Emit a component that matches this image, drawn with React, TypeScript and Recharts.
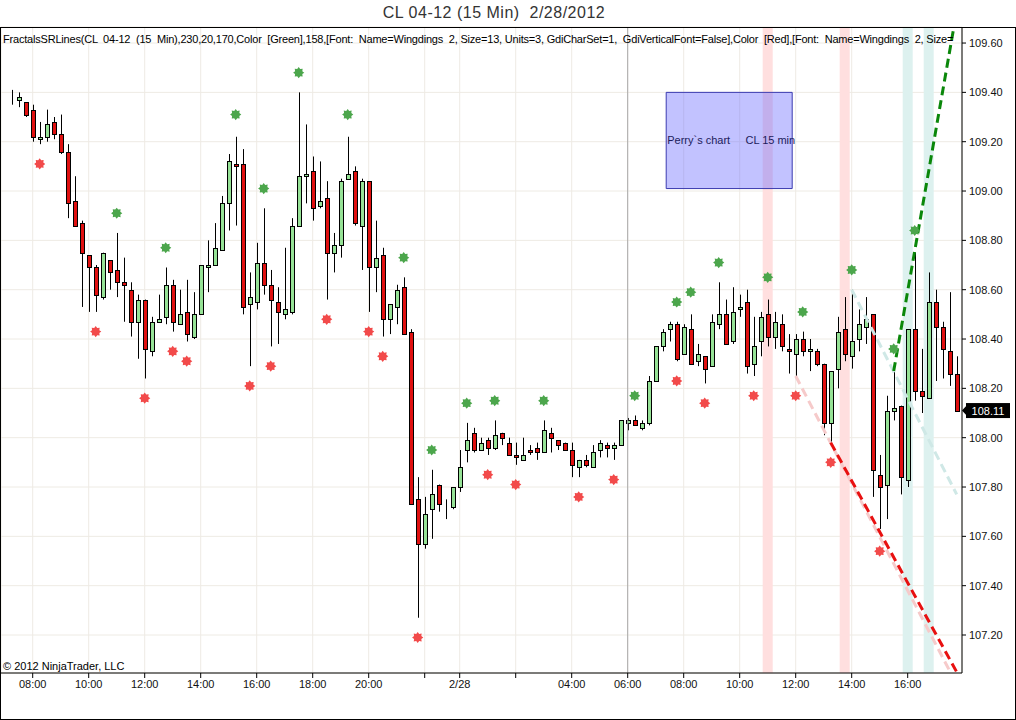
import {
  ComposedChart,
  Bar,
  Line,
  XAxis,
  YAxis,
  CartesianGrid,
  ReferenceArea,
  ReferenceLine,
} from "recharts";

// 15 min bars of CL 04-12 (bar 1 = 07:15)
const opens = [
  109.37, 109.37, 109.36, 109.33, 109.21, 109.22, 109.28, 109.23, 109.16, 108.96,
  108.87, 108.74, 108.69, 108.57, 108.72, 108.68, 108.63, 108.60, 108.47, 108.56,
  108.35, 108.47, 108.49, 108.62, 108.46, 108.51, 108.41, 108.50, 108.69, 108.70,
  108.76, 108.95, 109.11, 109.11, 108.54, 108.55, 108.71, 108.62, 108.55, 108.50,
  108.51, 108.86, 109.06, 109.08, 108.94, 108.97, 108.75, 108.78, 109.05, 109.08,
  108.86, 109.04, 108.69, 108.74, 108.48, 108.53, 108.61, 108.43, 107.75, 107.57,
  107.71, 107.81, 107.73, 107.72, 107.80, 107.95, 108.02, 107.95, 107.99, 107.96,
  108.02, 107.98, 107.93, 107.91, 107.95, 107.96, 107.94, 108.02, 107.99, 107.98,
  107.95, 107.88, 107.91, 107.88, 107.95, 107.97, 107.96, 107.97, 108.06, 108.07,
  108.04, 108.06, 108.23, 108.37, 108.44, 108.46, 108.34, 108.44, 108.31, 108.33,
  108.29, 108.46, 108.50, 108.39, 108.52, 108.55, 108.30, 108.39, 108.50, 108.41,
  108.46, 108.36, 108.34, 108.40, 108.35, 108.35, 108.30, 108.06, 108.28, 108.44,
  108.33, 108.40, 108.45, 108.50, 107.85, 107.81, 108.11, 108.13, 107.83, 108.44,
  108.19, 108.16, 108.55, 108.45, 108.35, 108.26,
];
const highs = [
  109.41, 109.40, 109.36, 109.35, 109.28, 109.33, 109.30, 109.31, 109.19, 109.06,
  108.88, 108.74, 108.70, 108.75, 108.72, 108.83, 108.73, 108.63, 108.58, 108.56,
  108.49, 108.58, 108.69, 108.64, 108.60, 108.64, 108.59, 108.70, 108.80, 108.87,
  108.98, 109.15, 109.22, 109.17, 108.67, 108.79, 108.93, 108.68, 108.61, 108.77,
  108.89, 109.40, 109.27, 109.14, 109.12, 109.04, 108.83, 109.05, 109.22, 109.10,
  109.05, 109.04, 108.88, 108.77, 108.54, 108.62, 108.65, 108.44, 107.84, 107.76,
  107.87, 107.81, 107.75, 107.80, 107.95, 108.06, 108.04, 108.00, 108.00, 108.07,
  108.02, 108.00, 107.98, 108.00, 107.97, 107.98, 108.07, 108.04, 107.99, 107.98,
  107.98, 107.91, 107.93, 107.97, 107.99, 107.98, 107.98, 108.07, 108.08, 108.09,
  108.07, 108.25, 108.37, 108.44, 108.47, 108.47, 108.46, 108.50, 108.38, 108.33,
  108.50, 108.63, 108.56, 108.61, 108.58, 108.60, 108.49, 108.51, 108.56, 108.51,
  108.50, 108.42, 108.42, 108.43, 108.40, 108.36, 108.30, 108.27, 108.49, 108.57,
  108.60, 108.52, 108.57, 108.50, 107.93, 108.17, 108.27, 108.13, 108.44, 108.75,
  108.36, 108.67, 108.60, 108.47, 108.59, 108.33,
];
const lows = [
  109.35, 109.34, 109.30, 109.20, 109.19, 109.20, 109.21, 109.15, 108.89, 108.86,
  108.53, 108.51, 108.51, 108.56, 108.60, 108.57, 108.47, 108.41, 108.32, 108.24,
  108.33, 108.47, 108.46, 108.43, 108.46, 108.39, 108.40, 108.50, 108.59, 108.70,
  108.76, 108.84, 108.86, 108.50, 108.29, 108.52, 108.58, 108.37, 108.38, 108.48,
  108.50, 108.86, 108.95, 108.88, 108.93, 108.56, 108.67, 108.73, 109.05, 108.86,
  108.68, 108.51, 108.59, 108.41, 108.42, 108.46, 108.42, 107.73, 107.27, 107.55,
  107.59, 107.70, 107.67, 107.71, 107.78, 107.90, 107.94, 107.95, 107.93, 107.95,
  107.97, 107.93, 107.89, 107.91, 107.93, 107.91, 107.94, 107.94, 107.95, 107.95,
  107.84, 107.84, 107.88, 107.88, 107.92, 107.92, 107.91, 107.97, 108.03, 108.05,
  108.03, 108.05, 108.23, 108.35, 108.39, 108.31, 108.34, 108.30, 108.29, 108.22,
  108.29, 108.44, 108.38, 108.38, 108.49, 108.26, 108.25, 108.33, 108.37, 108.36,
  108.35, 108.26, 108.25, 108.33, 108.27, 108.29, 108.01, 107.98, 108.20, 108.31,
  108.28, 108.35, 108.38, 107.76, 107.63, 107.67, 108.07, 107.77, 107.80, 108.15,
  108.10, 108.16, 108.23, 108.24, 108.21, 108.11,
];
const closes = [
  109.37, 109.38, 109.31, 109.22, 109.22, 109.27, 109.23, 109.16, 108.95, 108.86,
  108.75, 108.69, 108.58, 108.75, 108.67, 108.63, 108.62, 108.47, 108.56, 108.36,
  108.47, 108.48, 108.62, 108.47, 108.50, 108.42, 108.50, 108.70, 108.70, 108.77,
  108.95, 109.12, 109.10, 108.53, 108.57, 108.71, 108.62, 108.56, 108.51, 108.52,
  108.86, 109.06, 109.07, 108.93, 108.96, 108.75, 108.78, 109.04, 109.07, 108.87,
  109.04, 108.69, 108.73, 108.48, 108.54, 108.60, 108.42, 107.73, 107.57, 107.69,
  107.77, 107.73, 107.73, 107.80, 107.88, 107.99, 107.95, 107.98, 107.96, 108.01,
  108.00, 107.93, 107.92, 107.93, 107.94, 107.94, 108.03, 108.00, 107.97, 107.95,
  107.89, 107.91, 107.89, 107.94, 107.98, 107.96, 107.97, 108.07, 108.07, 108.05,
  108.06, 108.23, 108.37, 108.43, 108.46, 108.32, 108.45, 108.30, 108.34, 108.28,
  108.47, 108.50, 108.38, 108.51, 108.53, 108.29, 108.37, 108.49, 108.41, 108.47,
  108.37, 108.35, 108.40, 108.35, 108.36, 108.30, 108.06, 108.27, 108.43, 108.34,
  108.39, 108.46, 108.48, 107.87, 107.80, 108.11, 108.12, 107.84, 108.44, 108.19,
  108.17, 108.55, 108.45, 108.36, 108.26, 108.11,
];

// fractal markers (bar number, price of the star)
const fractalUpBars = [16, 23, 33, 37, 42, 49, 57, 61, 66, 70, 77, 90, 96, 98, 102, 109, 114, 121, 127, 130];
const fractalUpPrices = [
  108.91, 108.77, 109.31, 109.01, 109.48, 109.31, 108.73, 107.95, 108.14, 108.15,
  108.15, 108.17, 108.55, 108.59, 108.71, 108.65, 108.51, 108.68, 108.36, 108.84,
];
const fractalDownBars = [5, 13, 20, 24, 26, 35, 38, 46, 52, 54, 59, 69, 73, 82, 87, 96, 100, 107, 113, 118, 125];
const fractalDownPrices = [
  109.11, 108.43, 108.16, 108.35, 108.31, 108.21, 108.29, 108.48, 108.43, 108.33,
  107.19, 107.85, 107.81, 107.76, 107.83, 108.23, 108.14, 108.17, 108.17, 107.90, 107.54,
];

// support / resistance lines: [bar, price] end points
const supportOld = [[113, 108.25], [136, 107.0]];
const supportNew = [[118, 107.98], [136, 107.05]];
const resistanceOld = [[121, 108.6], [136, 107.77]];
const resistanceNew = [[127, 108.27], [136, 109.73]];

const redBands = [109, 120];
const cyanBands = [129, 132];
const sessionBreak = 89;

const timeTicks = [4, 12, 20, 28, 36, 44, 52, 60, 65, 73, 81, 89, 97, 105, 113, 121, 129];
const timeLabels = [
  "08:00", "10:00", "12:00", "14:00", "16:00", "18:00", "20:00", "", "2/28", "",
  "04:00", "06:00", "08:00", "10:00", "12:00", "14:00", "16:00",
];
const priceTicks = [107.2, 107.4, 107.6, 107.8, 108.0, 108.2, 108.4, 108.6, 108.8, 109.0, 109.2, 109.4, 109.6];

const noteBars = [95, 112];
const notePrices = [109.01, 109.4];
const noteText = "Perry`s chart     CL 15 min";

const indicatorText =
  "FractalsSRLines(CL  04-12  (15  Min),230,20,170,Color  [Green],158,[Font:  Name=Wingdings  2, Size=13, Units=3, GdiCharSet=1,  GdiVerticalFont=False],Color  [Red],[Font:  Name=Wingdings  2, Size=";

const data = opens.map((o, k) => {
  const bar = k + 1;
  const up = fractalUpBars.indexOf(bar);
  const down = fractalDownBars.indexOf(bar);
  return {
    bar,
    o,
    h: highs[k],
    l: lows[k],
    c: closes[k],
    range: [lows[k], highs[k]],
    fu: up >= 0 ? fractalUpPrices[up] : null,
    fd: down >= 0 ? fractalDownPrices[down] : null,
  };
});

const lastPrice = closes[closes.length - 1];

const FONT = '"Liberation Sans", Arial, sans-serif';
const UP_FILL = "#96E296";
const DOWN_FILL = "#E01010";

function Candle(props: any) {
  const { x, y, width, height, payload } = props;
  const { o, h, l, c } = payload;
  const px = (v: number) => y + ((h - v) / (h - l)) * height;
  const cx = Math.round(x + width / 2);
  const top = Math.round(px(Math.max(o, c))) + 0.5;
  const bot = Math.round(px(Math.min(o, c))) + 0.5;
  return (
    <g>
      <line x1={cx + 0.5} x2={cx + 0.5} y1={y} y2={y + height} stroke="#000" strokeWidth={1} />
      <rect
        x={cx - 1.5}
        y={top}
        width={4}
        height={Math.max(bot - top, 0)}
        fill={c >= o ? UP_FILL : DOWN_FILL}
        stroke="#000"
        strokeWidth={1}
      />
    </g>
  );
}

function burst(cx: number, cy: number, color: string) {
  const pts: string[] = [];
  for (let k = 0; k < 16; k++) {
    const r = k % 2 === 0 ? 5.6 : 3.9;
    const a = (Math.PI * k) / 8;
    pts.push(`${cx + r * Math.cos(a)},${cy + r * Math.sin(a)}`);
  }
  return <polygon points={pts.join(" ")} fill={color} />;
}

const fractalDot = (field: "fu" | "fd", color: string) => (props: any) => {
  const { cx, cy, payload, index } = props;
  if (payload[field] == null || cy == null) return <g key={`${field}${index}`} />;
  return <g key={`${field}${index}`}>{burst(cx, cy, color)}</g>;
};

function Band(color: string) {
  return (p: any) => (
    <rect x={p.x - 1.5} y={p.y} width={p.width + 3} height={p.height} fill={color} />
  );
}

function NoteLabel(props: any) {
  const { x, y, width, height } = props.viewBox;
  return (
    <text
      x={x + width / 2 + 2}
      y={y + height / 2}
      textAnchor="middle"
      dominantBaseline="central"
      fontSize={11}
      fill="#1c1c5c"
      style={{ whiteSpace: "pre" }}
    >
      {noteText}
    </text>
  );
}

function PriceTag(props: any) {
  const { x, y, width } = props.viewBox;
  const x0 = x + width;
  return (
    <g>
      <polygon points={`${x0},${y} ${x0 + 6},${y - 6.5} ${x0 + 6},${y + 6.5}`} fill="#000" />
      <rect x={x0 + 4} y={y - 7.5} width={44} height={15} fill="#000" />
      <text x={x0 + 26} y={y} textAnchor="middle" dominantBaseline="central" fill="#fff" fontSize={11}>
        {lastPrice.toFixed(2)}
      </text>
    </g>
  );
}

const seg = (pts: number[][]) => pts.map(([bar, price]) => ({ x: bar, y: price }));

export default function App() {
  return (
    <div
      style={{
        position: "absolute",
        left: 0,
        top: 0,
        width: 1016,
        height: 720,
        background: "#fff",
        fontFamily: FONT,
        overflow: "hidden",
      }}
    >
      <div
        style={{
          position: "absolute",
          top: 4,
          left: 0,
          width: 988,
          textAlign: "center",
          fontSize: 16,
          letterSpacing: 0.5,
          color: "#333",
          whiteSpace: "pre",
        }}
      >
        CL 04-12 (15 Min)  2/28/2012
      </div>

      <ComposedChart width={1016} height={720} data={data} margin={{ top: 27, right: 0, bottom: 0, left: 1 }}>
        <CartesianGrid stroke="#EEEBE4" />
        <XAxis
          dataKey="bar"
          type="category"
          ticks={timeTicks}
          interval={0}
          tickFormatter={(v) => timeLabels[timeTicks.indexOf(v)]}
          height={47}
          padding={{ left: 7.2, right: 1.8 }}
          tick={{ fontSize: 11, fill: "#111" }}
          tickSize={5}
          tickMargin={2}
          axisLine={{ stroke: "#000" }}
          tickLine={{ stroke: "#000" }}
        />
        <YAxis
          orientation="right"
          type="number"
          domain={[107.046, 109.665]}
          allowDataOverflow
          ticks={priceTicks}
          tickFormatter={(v) => Number(v).toFixed(2)}
          width={54}
          tick={{ fontSize: 11, fill: "#111" }}
          tickSize={4}
          tickMargin={3}
          axisLine={{ stroke: "#000" }}
          tickLine={{ stroke: "#000" }}
        />

        {redBands.map((b) => (
          <ReferenceArea key={`r${b}`} x1={b} x2={b} shape={Band("#FFDFDF")} />
        ))}
        {cyanBands.map((b) => (
          <ReferenceArea key={`c${b}`} x1={b} x2={b} shape={Band("#DDF1EF")} />
        ))}
        <ReferenceLine x={sessionBreak} stroke="#A8A8A8" strokeWidth={1} />

        <Bar dataKey="range" barSize={5} shape={Candle} isAnimationActive={false} />

        <ReferenceLine segment={seg(supportOld)} stroke="#F6CACA" strokeWidth={3} strokeDasharray="9 5" ifOverflow="hidden" />
        <ReferenceLine segment={seg(resistanceOld)} stroke="#CFE8E6" strokeWidth={3} strokeDasharray="9 5" ifOverflow="hidden" />
        <ReferenceLine segment={seg(supportNew)} stroke="#E81010" strokeWidth={3} strokeDasharray="9 5" ifOverflow="hidden" />
        <ReferenceLine segment={seg(resistanceNew)} stroke="#0A870A" strokeWidth={3} strokeDasharray="9 5" ifOverflow="hidden" />

        <Line
          dataKey="fu"
          stroke="none"
          dot={fractalDot("fu", "#4CA64C")}
          activeDot={false}
          legendType="none"
          isAnimationActive={false}
        />
        <Line
          dataKey="fd"
          stroke="none"
          dot={fractalDot("fd", "#F24A4A")}
          activeDot={false}
          legendType="none"
          isAnimationActive={false}
        />

        <ReferenceArea
          x1={noteBars[0]}
          x2={noteBars[1]}
          y1={notePrices[0]}
          y2={notePrices[1]}
          fill="#6666FF"
          fillOpacity={0.4}
          stroke="#3A3AB0"
          strokeOpacity={1}
          label={NoteLabel}
        />

        <ReferenceLine y={lastPrice} stroke="none" label={PriceTag} />
      </ComposedChart>

      <div
        style={{
          position: "absolute",
          top: 33,
          left: 3,
          whiteSpace: "pre",
          fontSize: 11,
          letterSpacing: -0.2,
          color: "#000",
        }}
      >
        {indicatorText}
      </div>
      <div style={{ position: "absolute", top: 660, left: 3, fontSize: 11, color: "#000" }}>
        © 2012 NinjaTrader, LLC
      </div>

      <div style={{ position: "absolute", left: 0, top: 27, width: 1016, height: 1, background: "#000" }} />
      <div style={{ position: "absolute", left: 0, top: 27, width: 1, height: 693, background: "#000" }} />
      <div style={{ position: "absolute", left: 0, top: 719, width: 1016, height: 1, background: "#000" }} />
      <div style={{ position: "absolute", left: 1015, top: 27, width: 1, height: 693, background: "#000" }} />
    </div>
  );
}
